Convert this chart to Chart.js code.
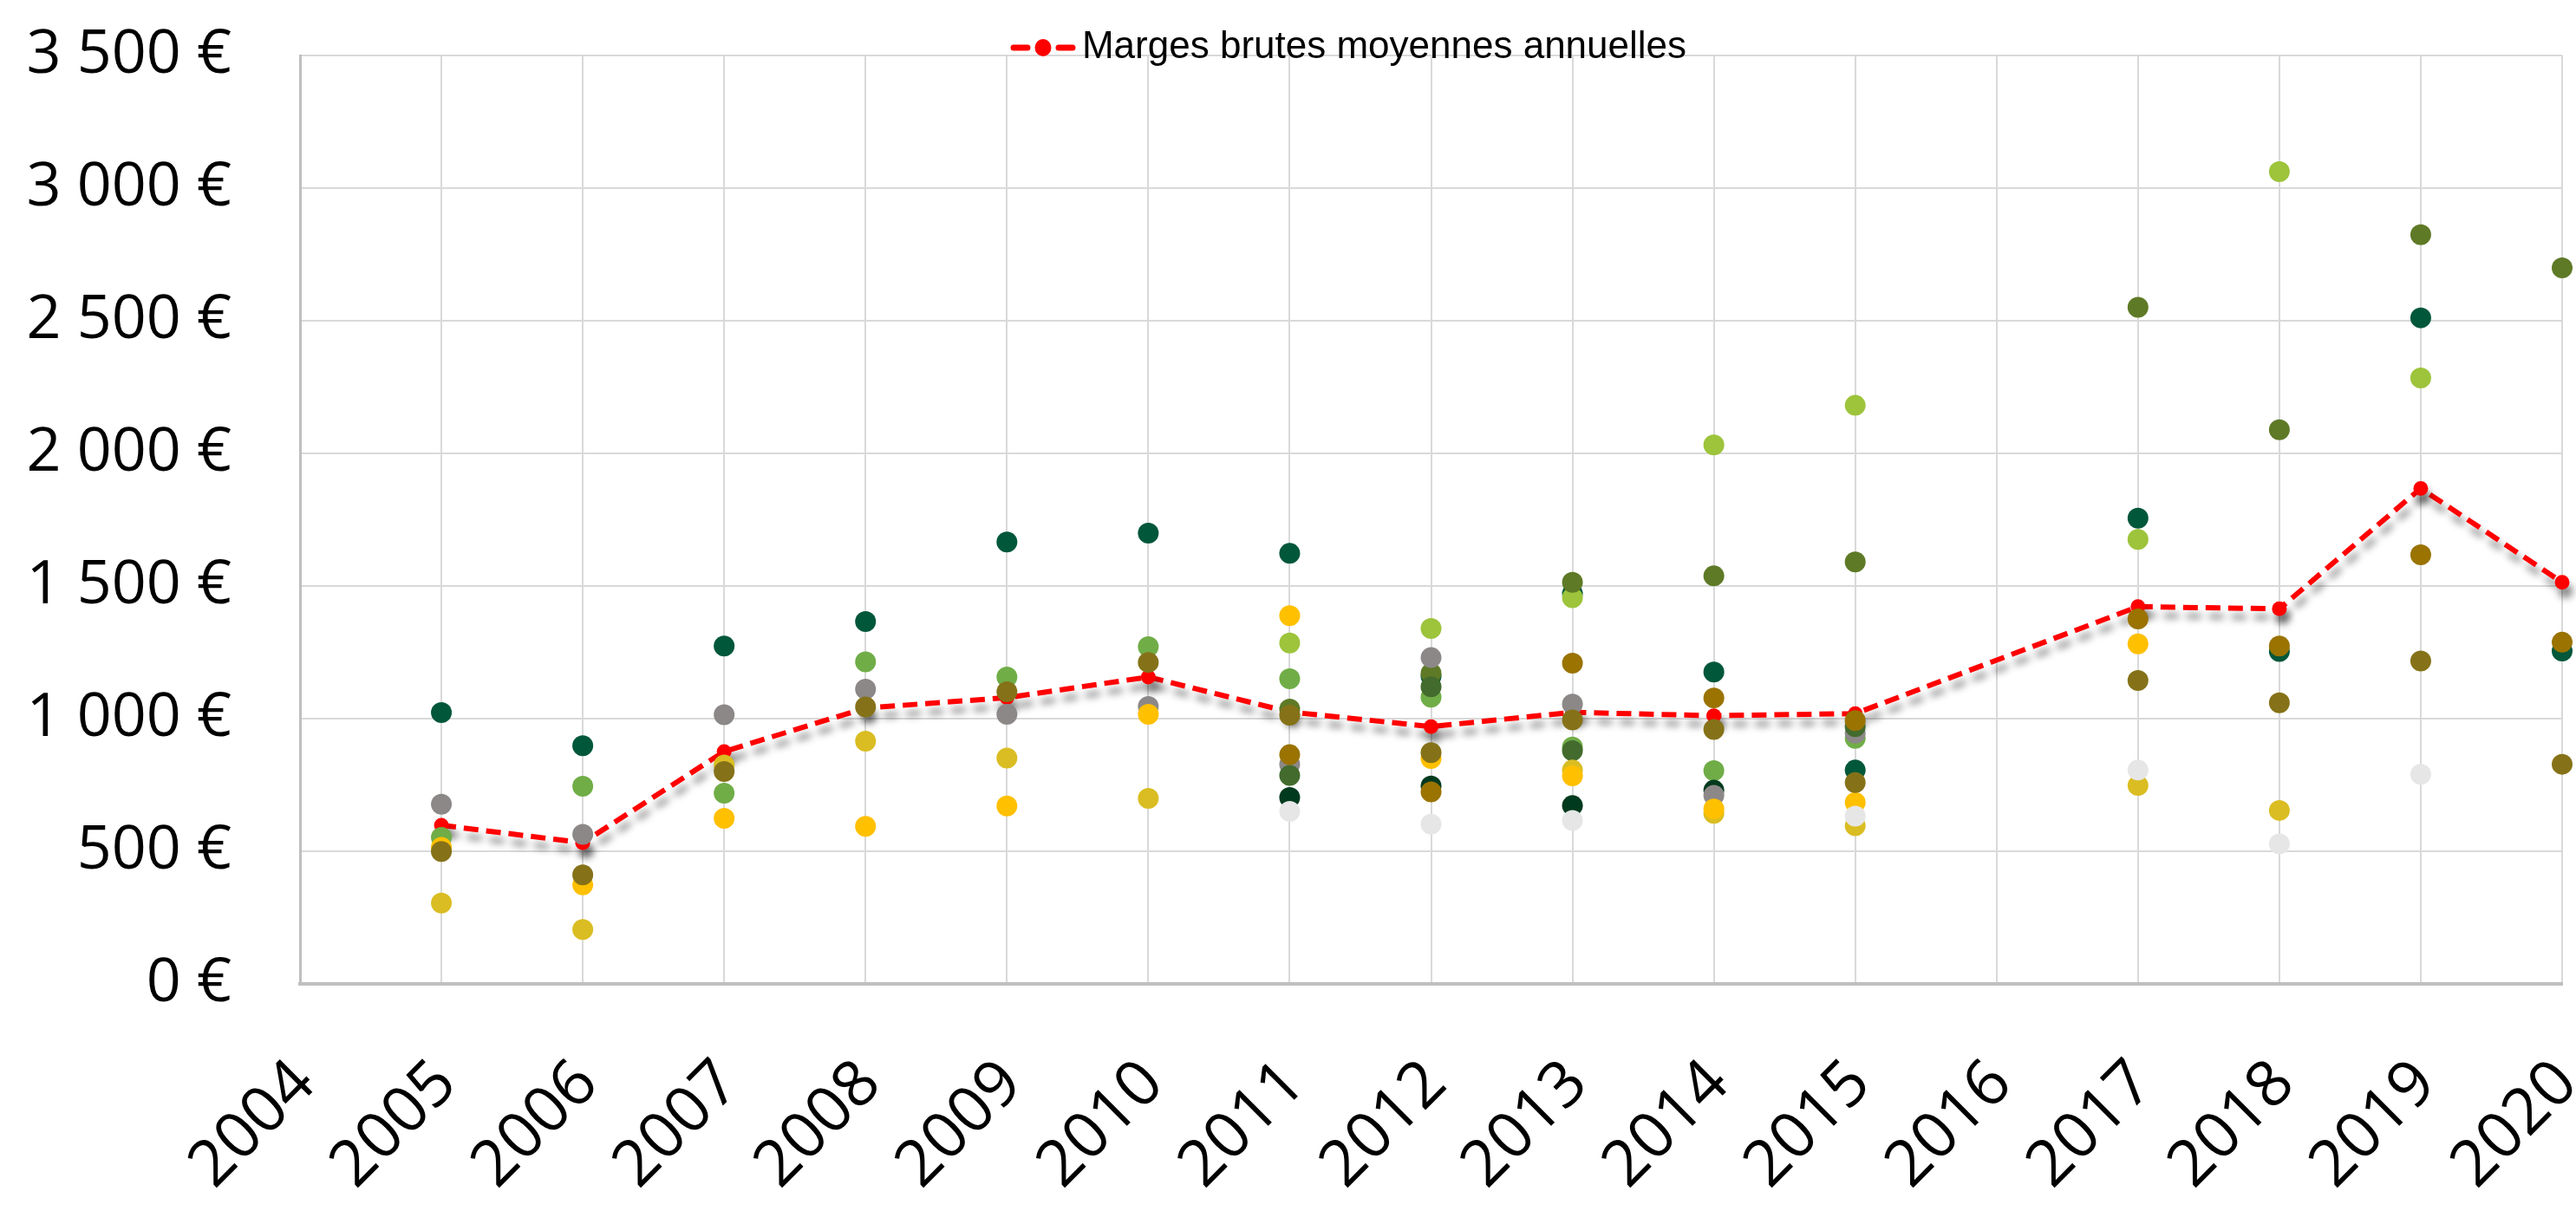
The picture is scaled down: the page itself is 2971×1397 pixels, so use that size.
<!DOCTYPE html>
<html lang="fr">
<head>
<meta charset="utf-8">
<title>Marges brutes moyennes annuelles</title>
<script src="https://cdn.jsdelivr.net/npm/chart.js@4.4.1/dist/chart.umd.min.js"></script>
<style>
  html, body { margin: 0; padding: 0; background: #fff; }
  #wrap { width: 2971px; height: 1397px; }
</style>
</head>
<body>
<div id="wrap">
  <canvas id="chart" width="2971" height="1397"></canvas>
</div>
<script>
const years = ["2004", "2005", "2006", "2007", "2008", "2009", "2010", "2011", "2012",
  "2013", "2014", "2015", "2016", "2017", "2018", "2019", "2020"];
const yTickLabels = ["0 €", "500 €", "1 000 €", "1 500 €", "2 000 €", "2 500 €", "3 000 €", "3 500 €"];

// moyenne annuelle (ligne rouge)
const margesMoyennes = [null, 598, 532, 876, 1040, 1079, 1157, 1025, 970, 1024, 1011, 1019, null, 1422, 1414, 1868, 1514];

// points individuels, un tableau par série
const darkGreen = [null, 1023, 898, 1274, 1366, 1666, 1699, 1623, 1160, 1471, 1176, 806, null, 1756, 1253, 2511, 1255];
const green = [null, 552, 745, 719, 1214, 1157, 1271, 1150, 1081, 893, 804, 926, null, null, null, null, null];
const lightGreen = [null, null, null, null, null, null, null, 1285, 1340, 1456, 2032, 2181, null, 1676, 3062, 2284, null];
const oliveGreen = [null, null, null, null, null, null, null, 1036, 1171, 1514, 1538, 1591, null, 2551, 2089, 2824, 2699];
const veryDarkGreen = [null, null, null, null, null, null, null, 703, 746, 672, 730, null, null, null, null, null, null];
const gray = [null, 677, 564, 1015, 1111, 1016, 1046, 828, 1230, 1055, 711, 945, null, null, null, null, null];
const darkOlive = [null, null, null, null, null, null, null, 786, 1120, 879, null, 970, null, null, null, null, null];
const mustard = [null, 305, 205, 825, 915, 851, 699, null, null, 806, 643, 596, null, 748, 654, null, null];
const yellow = [null, 515, 373, 624, 594, 671, 1016, 1388, 850, 784, 659, 684, null, 1282, null, null, null];
const lightGray = [null, null, null, null, null, null, null, 650, 602, 616, null, 632, null, 806, 528, 790, null];
const oliveBrown = [null, 499, 411, 801, 1044, 1101, 1212, 1013, 872, 995, 959, 759, null, 1144, 1060, 1217, 828];
const goldBrown = [null, null, null, null, null, null, null, 864, 724, 1209, 1078, 993, null, 1376, 1274, 1618, 1288];

// bottom -> top drawing order
const scatterSeries = [
  { data: darkGreen, color: "#00573a" },
  { data: green, color: "#70ad47" },
  { data: lightGreen, color: "#9dc43b" },
  { data: oliveGreen, color: "#5e7a26" },
  { data: veryDarkGreen, color: "#003a1e" },
  { data: gray, color: "#8c8888" },
  { data: darkOlive, color: "#436b2e" },
  { data: mustard, color: "#dabd22" },
  { data: yellow, color: "#ffc000" },
  { data: lightGray, color: "#e6e6e6" },
  { data: oliveBrown, color: "#857218" },
  { data: goldBrown, color: "#9a7300" },
];

const LEGEND_SHIFT_X = 85;

function buildLegendSymbol() {
  const c = document.createElement("canvas");
  c.width = 76;
  c.height = 22;
  const g = c.getContext("2d");
  g.strokeStyle = "#ff0000";
  g.lineWidth = 7;
  g.lineCap = "round";
  g.beginPath();
  g.moveTo(4, 11);
  g.lineTo(20, 11);
  g.moveTo(56, 11);
  g.lineTo(72, 11);
  g.stroke();
  g.fillStyle = "#ff0000";
  g.beginPath();
  g.ellipse(38, 11, 9.5, 10, 0, 0, 2 * Math.PI);
  g.fill();
  return c;
}

// grey drop shadow under the average line
const lineShadow = {
  id: "lineShadow",
  beforeDatasetDraw(chart, args) {
    if (args.index !== 0) return;
    const ctx = chart.ctx;
    ctx.save();
    ctx.shadowColor = "rgba(0, 0, 0, 0.45)";
    ctx.shadowBlur = 8;
    ctx.shadowOffsetX = 4;
    ctx.shadowOffsetY = 10;
  },
  afterDatasetDraw(chart, args) {
    if (args.index === 0) chart.ctx.restore();
  },
};

// legend overlaps the top of the plot like in the original, so let its box
// reach a bit lower than the layout slot and nudge it right
const legendPlacement = {
  id: "legendPlacement",
  afterLayout(chart) {
    const lg = chart.legend;
    lg.left += LEGEND_SHIFT_X;
    lg.right += LEGEND_SHIFT_X;
    lg.bottom = lg.top + 110;
    lg.height = 110;
  },
};

const datasets = [
  {
    label: "Marges brutes moyennes annuelles",
    data: margesMoyennes,
    borderColor: "#ff0000",
    backgroundColor: "#ff0000",
    borderWidth: 6,
    borderDash: [17, 9],
    pointRadius: 8.5,
    pointHoverRadius: 8.5,
    pointBackgroundColor: "#ff0000",
    pointBorderWidth: 0,
    spanGaps: true,
    tension: 0,
    order: 100,
    clip: false,
  },
];
scatterSeries.forEach((s, i) => {
  datasets.push({
    label: "",
    data: s.data,
    showLine: false,
    backgroundColor: s.color,
    borderColor: s.color,
    pointBackgroundColor: s.color,
    pointBorderWidth: 0,
    pointRadius: 12,
    pointHoverRadius: 12,
    order: 50 - i,
    clip: false,
  });
});

new Chart(document.getElementById("chart"), {
  type: "line",
  data: { labels: years, datasets: datasets },
  plugins: [lineShadow, legendPlacement],
  options: {
    responsive: false,
    devicePixelRatio: 1,
    animation: false,
    events: [],
    layout: { padding: { left: 0, right: 16, top: 0, bottom: 0 } },
    plugins: {
      tooltip: { enabled: false },
      legend: {
        position: "top",
        maxHeight: 64,
        labels: {
          usePointStyle: true,
          pointStyle: buildLegendSymbol(),
          pointStyleWidth: 46,
          padding: 33,
          color: "#000",
          font: { family: "'Liberation Sans Narrow', 'Liberation Sans', sans-serif", size: 44 },
          filter: (item) => item.datasetIndex === 0,
        },
      },
    },
    scales: {
      x: {
        type: "category",
        offset: false,
        grid: { color: "#d9d9d9", lineWidth: 2, drawTicks: false },
        border: { color: "#bfbfbf", width: 4 },
        ticks: {
          autoSkip: false,
          minRotation: 45,
          maxRotation: 45,
          padding: 77,
          labelOffset: 6,
          color: "#000",
          font: { family: "'Open Sans', 'DejaVu Sans', sans-serif", size: 74, lineHeight: 1 },
        },
        afterFit(scale) {
          scale.height = 262;
          scale.paddingLeft = 0;
          scale.paddingRight = 0;
        },
      },
      y: {
        min: 0,
        max: 3500,
        grid: { color: "#d9d9d9", lineWidth: 2, drawTicks: false },
        border: { color: "#bfbfbf", width: 3 },
        ticks: {
          stepSize: 500,
          padding: 79,
          color: "#000",
          font: { family: "'Open Sans', 'DejaVu Sans', sans-serif", size: 70, lineHeight: 1 },
          callback: (value, index) => yTickLabels[index],
        },
        afterFit(scale) {
          scale.width = 346;
          scale.paddingTop = 0;
          scale.paddingBottom = 0;
        },
      },
    },
  },
});
</script>
</body>
</html>
